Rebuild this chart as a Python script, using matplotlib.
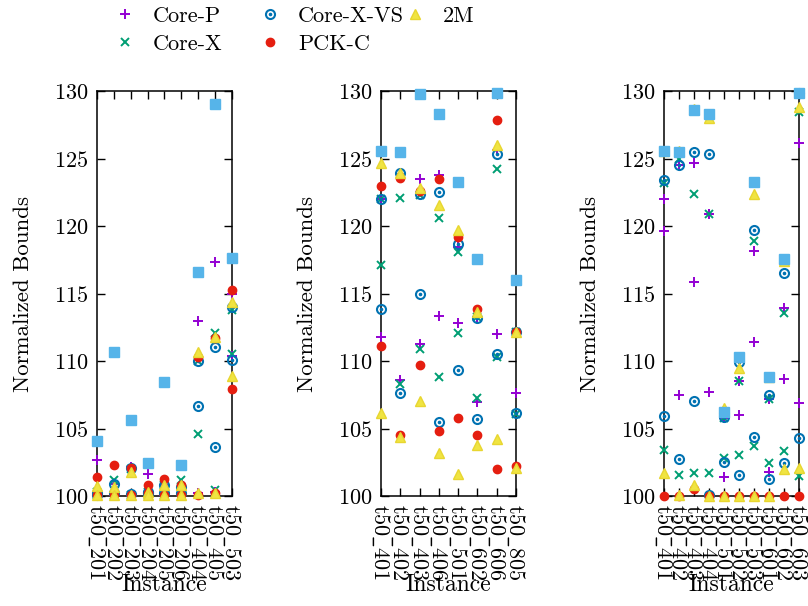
""" Normalized bounds per instance, three panels, gnuplot-like look. """

import numpy as np
import matplotlib
matplotlib.use("Agg")
import matplotlib.pyplot as plt
from matplotlib.lines import Line2D

plt.rcParams['font.family'] = ['cmr10', 'DejaVu Serif']
plt.rcParams['axes.formatter.use_mathtext'] = True
plt.rcParams['mathtext.fontset'] = 'cm'

# ---- panel 1 ----
p1_labels = ["t50_201", "t50_202", "t50_203", "t50_204", "t50_205",
             "t50_206", "t50_404", "t50_405", "t50_503"]
p1_best = [104.1, 110.7, 105.65, 102.47, 108.47, 102.3, 116.6, 129.06, 117.65]
p1_corep_hi = [102.67, 100.9, 102.15, 101.63, 100.8, 100.65, 113.0, 117.35, 115.0]
p1_corep_lo = [100.2, 100.1, 100.1, 100.2, 100.1, 100.2, 100.2, 100.3, 110.4]
p1_corex_hi = [100.3, 101.2, 102.0, 100.3, 100.8, 101.2, 110.0, 112.1, 113.8]
p1_corex_lo = [100.1, 100.1, 100.1, 100.1, 100.1, 100.2, 104.57, 100.45, 110.5]
p1_corexvs_hi = [100.2, 100.9, 102.1, 100.3, 100.8, 100.65, 110.0, 111.06, 114.0]
p1_corexvs_lo = [100.1, 100.2, 100.15, 100.2, 100.2, 100.2, 106.7, 103.6, 110.1]
p1_pckc_hi = [101.43, 102.27, 102.05, 100.8, 101.23, 100.8, 110.3, 111.7, 115.26]
p1_pckc_lo = [100.1, 100.1, 100.1, 100.2, 100.1, 100.1, 100.07, 100.2, 107.9]
p1_2m_hi = [100.74, 100.7, 101.8, 100.3, 100.85, 100.8, 110.7, 111.8, 114.4]
p1_2m_lo = [100.05, 100.05, 100.05, 100.1, 100.05, 100.05, 100.2, 100.2, 108.9]

# ---- panel 2 ----
p2_labels = ["t50_401", "t50_402", "t50_403", "t50_406",
             "t50_501", "t50_602", "t50_606", "t50_805"]
p2_best = [125.58, 125.5, 129.78, 128.3, 123.28, 117.56, 129.83, 116.0]
p2_corep_hi = [122.0, 123.9, 123.5, 123.78, 118.47, 113.3, 125.63, 112.17]
p2_corep_lo = [111.8, 108.6, 111.26, 113.33, 112.84, 106.99, 112.0, 107.6]
p2_corex_hi = [122.0, 122.05, 122.3, 120.57, 118.1, 113.3, 124.2, 112.17]
p2_corex_lo = [117.1, 108.3, 110.86, 108.79, 112.05, 107.28, 110.32, 106.1]
p2_corexvs_hi = [122.0, 123.95, 122.35, 122.5, 118.64, 113.2, 125.33, 112.17]
p2_corexvs_lo = [113.88, 107.65, 114.94, 105.48, 109.33, 105.68, 110.52, 106.17]
p2_pckc_hi = [122.96, 123.6, 122.6, 123.46, 119.16, 113.88, 127.9, 112.17]
p2_pckc_lo = [111.14, 104.52, 109.7, 104.81, 105.75, 104.52, 102.02, 102.22]
p2_2m_hi = [124.69, 123.95, 122.8, 121.6, 119.75, 113.65, 126.0, 112.17]
p2_2m_lo = [106.12, 104.35, 107.06, 103.16, 101.6, 103.78, 104.2, 102.05]

# ---- panel 3 ----
p3_labels = ["t50_401", "t50_402", "t50_403", "t50_404", "t50_501",
             "t50_502", "t50_503", "t50_601", "t50_602", "t50_603"]
p3_best = [125.58, 125.5, 128.6, 128.3, 106.25, 110.32, 123.28, 108.79, 117.56, 129.88]
p3_corep_hi = [121.98, 124.5, 124.7, 120.89, 105.75, 108.54, 118.15, 107.16, 113.9, 126.17]
p3_corep_lo = [119.63, 107.48, 115.88, 107.68, 101.38, 106.0, 111.38, 101.78, 108.67, 106.86]
p3_corex_hi = [123.16, 124.96, 122.37, 120.89, 105.75, 108.54, 118.9, 107.16, 113.58, 128.47]
p3_corex_lo = [103.4, 101.56, 101.68, 101.73, 102.79, 103.04, 103.73, 102.42, 103.33, 101.48]
p3_corexvs_hi = [123.4, 124.52, 125.5, 125.38, 105.88, 109.95, 119.7, 107.48, 116.54, 129.9]
p3_corexvs_lo = [105.93, 102.77, 107.06, 100.07, 102.54, 101.53, 104.4, 101.23, 102.47, 104.27]
p3_pckc_hi = [125.58, 125.5, 128.6, 128.3, 106.25, 110.32, 123.28, 108.79, 117.56, 129.88]
p3_pckc_lo = [100.0, 100.0, 100.5, 100.0, 100.0, 100.0, 100.0, 100.0, 100.0, 100.0]
p3_2m_hi = [125.6, 125.6, 128.7, 127.98, 106.5, 109.46, 122.35, 108.85, 117.4, 128.84]
p3_2m_lo = [101.73, 100.07, 100.81, 100.0, 100.0, 100.0, 100.0, 100.0, 101.98, 102.05]

methods = ["Core-P", "Core-X", "Core-X-VS", "PCK-C", "2M"]

STYLE = {
    "Core-P": dict(marker='+', color='#9400d3', ms=7, mew=1.4),
    "Core-X": dict(marker='x', color='#009e73', ms=6, mew=1.4),
    "Core-X-VS": dict(marker='o', mfc='none', mec='#0072b2', ms=6.5, mew=1.5),
    "PCK-C": dict(marker='o', color='#e51e10', ms=6),
    "2M": dict(marker='^', mfc='#f0e442', mec='#e8d630', ms=6.5, mew=1),
}
DOT = dict(marker='o', color='#0072b2', ms=1.6)
BEST = dict(marker='s', color='#56b4e9', ms=6.5)

fig = plt.figure(figsize=(8.08, 6.06), dpi=100)

panels = [
    (0.120, p1_labels, p1_best,
     [(p1_corep_hi, p1_corep_lo), (p1_corex_hi, p1_corex_lo),
      (p1_corexvs_hi, p1_corexvs_lo), (p1_pckc_hi, p1_pckc_lo), (p1_2m_hi, p1_2m_lo)]),
    (0.4715, p2_labels, p2_best,
     [(p2_corep_hi, p2_corep_lo), (p2_corex_hi, p2_corex_lo),
      (p2_corexvs_hi, p2_corexvs_lo), (p2_pckc_hi, p2_pckc_lo), (p2_2m_hi, p2_2m_lo)]),
    (0.8218, p3_labels, p3_best,
     [(p3_corep_hi, p3_corep_lo), (p3_corex_hi, p3_corex_lo),
      (p3_corexvs_hi, p3_corexvs_lo), (p3_pckc_hi, p3_pckc_lo), (p3_2m_hi, p3_2m_lo)]),
]

for left, labels, best, series in panels:
    ax = fig.add_axes([left, 0.1815, 0.167, 0.668])
    x = np.arange(len(labels))
    for name, (hi, lo) in zip(methods, series):
        for vals in (hi, lo):
            ax.plot(x, vals, ls='none', clip_on=False, zorder=3, **STYLE[name])
            if name == "Core-X-VS":
                ax.plot(x, vals, ls='none', clip_on=False, zorder=3, **DOT)
    ax.plot(x, best, ls='none', clip_on=False, zorder=3, **BEST)

    ax.set_xlim(0, len(labels) - 1)
    ax.set_ylim(100, 130)
    ax.set_xticks(x)
    # mathtext so the underscore is drawn (cmr10 has no plain "_")
    ax.set_xticklabels([r"$\mathrm{" + s.replace("_", r"\_") + "}$" for s in labels],
                       rotation=-90)
    ax.set_yticks(np.arange(100, 131, 5))
    ax.tick_params(direction='in', length=6, width=1, top=True, right=True,
                   labelsize=16, pad=6)
    for sp in ax.spines.values():
        sp.set_linewidth(1.1)
    ax.set_xlabel("Instance", fontsize=17)
    ax.xaxis.set_label_coords(0.5, -0.22)
    ax.xaxis.label.set_va('center')
    ax.set_ylabel("Normalized Bounds", fontsize=16.5, labelpad=15)

handles = []
for name in methods:
    h = Line2D([], [], ls='none', **STYLE[name])
    if name == "Core-X-VS":
        h = (h, Line2D([], [], ls='none', **DOT))
    handles.append(h)

# one legend per column, gnuplot places key columns on a fixed grid
columns = [(0.137, [0, 1]), (0.3168, [2, 3]), (0.4963, [4])]
for xpos, idx in columns:
    leg = fig.legend([handles[i] for i in idx], [methods[i] for i in idx],
                     loc='upper left', bbox_to_anchor=(xpos, 0.995),
                     frameon=False, fontsize=16, handlelength=1.0,
                     handletextpad=0.75, labelspacing=0.38,
                     borderpad=0.0, borderaxespad=0.15)

fig.savefig('out.png', dpi=100)
